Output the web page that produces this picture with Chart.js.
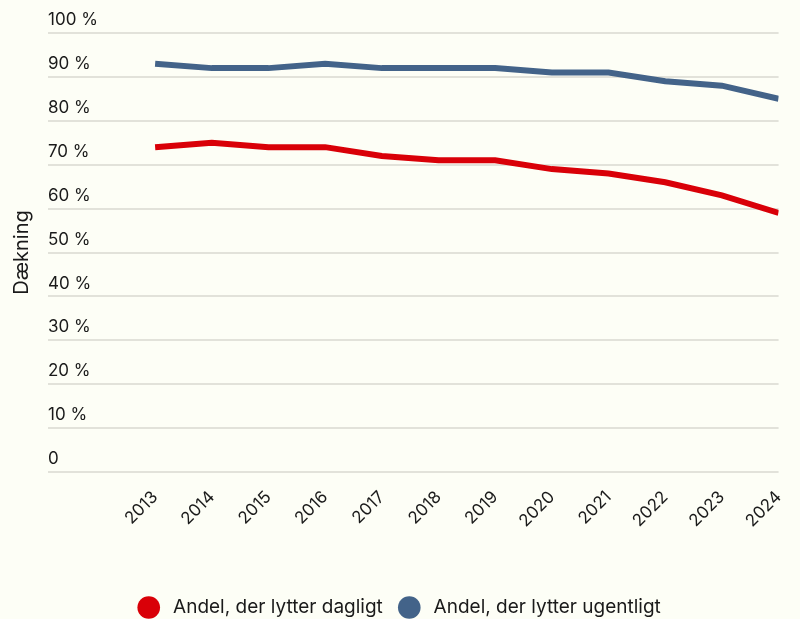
<!DOCTYPE html>
<html>
<head>
<meta charset="utf-8">
<script src="https://cdn.jsdelivr.net/npm/chart.js@4"></script>
<style>
  html, body { margin: 0; padding: 0; background: #fdfef6; }
  #wrap { width: 800px; height: 619px; }
</style>
</head>
<body>
<div id="wrap"><canvas id="chart"></canvas></div>
<script>
// years on the x axis
const years = [2013, 2014, 2015, 2016, 2017, 2018, 2019, 2020, 2021, 2022, 2023, 2024];

// share listening daily / weekly (%)
const daily = [74, 75, 74, 74, 72, 71, 71, 69, 68, 66, 63, 59];
const weekly = [93, 92, 92, 93, 92, 92, 92, 91, 91, 89, 88, 85];

// y tick values
const yTicks = [0, 10, 20, 30, 40, 50, 60, 70, 80, 90, 100];

const seriesNames = ["Andel, der lytter dagligt", "Andel, der lytter ugentligt"];
const axisTitle = "Dækning";

const red = "#d90008";
const blue = "#436389";

function toPoints(values) {
    return years.map((y, i) => ({ x: y, y: values[i] }));
}

function makeSet(label, values, color) {
    return {
        label: label,
        data: toPoints(values),
        borderColor: color,
        backgroundColor: color,
        borderWidth: 6,
        pointRadius: 0,
        pointBorderWidth: 0,
        pointBackgroundColor: color,
        tension: 0
    };
}

const font = "Inter";
const textColor = "#1a1a1a";

// nudge the legend a few px right, the reference is not centred on the canvas
const legendShift = {
    id: "legendShift",
    afterLayout(chart) {
        const lg = chart.legend;
        if (!lg || lg._shifted) return;
        const draw = lg.draw;
        lg.draw = function () {
            const ctx = chart.ctx;
            ctx.save();
            ctx.translate(6, 0);
            draw.apply(this, arguments);
            ctx.restore();
        };
        lg._shifted = true;
    }
};

new Chart(document.getElementById("chart"), {
    type: "line",
    data: {
        datasets: [
            makeSet(seriesNames[0], daily, red),
            makeSet(seriesNames[1], weekly, blue)
        ]
    },
    plugins: [legendShift],
    options: {
        responsive: true,
        maintainAspectRatio: false,
        animation: false,
        layout: { padding: { left: 8, right: 20, top: 33, bottom: -8 } },
        plugins: {
            legend: {
                position: "bottom",
                labels: {
                    usePointStyle: true,
                    pointStyle: "circle",
                    boxWidth: 19,
                    boxHeight: 16,
                    color: textColor,
                    font: { family: font, size: 19 },
                    padding: 17,
                    // a bit more room between the dot and the text
                    generateLabels: (chart) => {
                        const items = Chart.defaults.plugins.legend.labels.generateLabels(chart);
                        items.forEach((it) => { it.text = " " + it.text; });
                        return items;
                    }
                }
            },
            tooltip: { enabled: false }
        },
        scales: {
            x: {
                type: "linear",
                min: 2011.11,
                max: 2024,
                afterBuildTicks: (scale) => {
                    scale.ticks = years.map((v) => ({ value: v }));
                },
                afterFit: (scale) => {
                    scale.height = 109;
                },
                grid: { display: false },
                border: { display: false },
                ticks: {
                    minRotation: 45,
                    maxRotation: 45,
                    color: textColor,
                    font: { family: font, size: 17 },
                    padding: 7,
                    callback: (v) => String(v)
                }
            },
            y: {
                min: 0,
                max: 100,
                afterBuildTicks: (scale) => {
                    scale.ticks = yTicks.map((v) => ({ value: v }));
                },
                border: { display: false },
                grid: { color: "#e2e2da", lineWidth: 2, drawTicks: false },
                title: {
                    display: true,
                    text: axisTitle,
                    color: textColor,
                    font: { family: font, size: 20 },
                    padding: { top: 2, bottom: 14 }
                },
                ticks: {
                    mirror: true,
                    padding: 0,
                    labelOffset: -13,
                    color: textColor,
                    font: { family: font, size: 17 },
                    callback: (v) => (v === 0 ? "0" : v + " %")
                }
            }
        }
    }
});
</script>
</body>
</html>
